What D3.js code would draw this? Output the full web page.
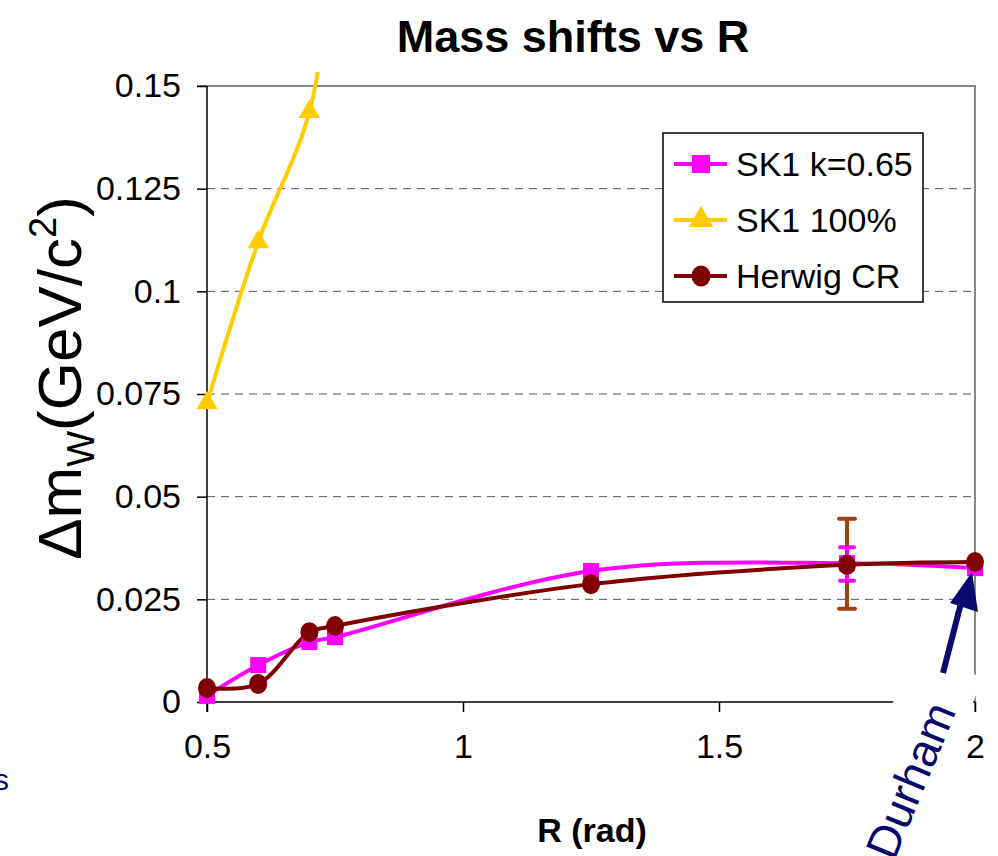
<!DOCTYPE html>
<html>
<head>
<meta charset="utf-8">
<script src="https://cdn.jsdelivr.net/npm/d3@7"></script>
<style>
  body { margin: 0; background: #fff; }
  text { font-family: "Liberation Sans", Arial, sans-serif; }
</style>
</head>
<body>
<div id="chart"></div>
<script>
// values
var rValues = [0.5, 0.6, 0.7, 0.75, 1.25, 1.75, 2.0];
var sk1k065 = [0.0015, 0.009, 0.0146, 0.0158, 0.0319, 0.0338, 0.0326];
var herwigCR = [0.0034, 0.0044, 0.017, 0.0185, 0.0287, 0.0334, 0.0341];
var sk1FullR = [0.5, 0.6, 0.7, 0.75];
var sk1Full = [0.0728, 0.112, 0.1437, 0.185];

// error bars at R = 1.75
var errR = 1.75;
var sk1Err = [0.0295, 0.0377];
var herwigErr = [0.0227, 0.0446];

var xTicks = [0.5, 1, 1.5, 2];
var yTicks = [0, 0.025, 0.05, 0.075, 0.1, 0.125, 0.15];
var legendNames = ["SK1 k=0.65", "SK1 100%", "Herwig CR"];

var W = 998, H = 856;
var margin = {top: 86, right: 23, bottom: 154, left: 207};
var width = W - margin.left - margin.right,
    height = H - margin.top - margin.bottom;

var svg = d3.select("#chart").append("svg")
    .attr("width", W)
    .attr("height", H);

var g = svg.append("g")
    .attr("transform", "translate(" + margin.left + "," + margin.top + ")");

var x = d3.scaleLinear().domain([0.5, 2]).range([0, width]);
var y = d3.scaleLinear().domain([0, 0.15]).range([height, 0]);

// clip, lines may poke a bit above the frame
g.append("clipPath").attr("id", "clip")
  .append("rect")
    .attr("x", -20).attr("y", -14)
    .attr("width", width + 40).attr("height", height + 34);

// gridlines
g.append("g")
    .selectAll("line")
    .data(yTicks.filter(function (d) { return d > 0 && d < 0.15; }))
    .enter().append("line")
    .attr("x1", 0).attr("x2", width)
    .attr("y1", function (d) { return y(d); })
    .attr("y2", function (d) { return y(d); })
    .attr("stroke", "#555")
    .attr("stroke-width", 1)
    .attr("stroke-dasharray", "8,6");

// top and right frame
g.append("line")
    .attr("x1", -10).attr("x2", width + 1)
    .attr("y1", 0).attr("y2", 0)
    .attr("stroke", "#888").attr("stroke-width", 2);
g.append("line")
    .attr("x1", width).attr("x2", width)
    .attr("y1", 0).attr("y2", height + 10)
    .attr("stroke", "#888").attr("stroke-width", 2);

// axes
var yAxis = d3.axisLeft(y).tickValues(yTicks).tickSize(10).tickPadding(16)
    .tickFormat(function (d) { return d3.format("")(d); });
var xAxis = d3.axisBottom(x).tickValues(xTicks).tickSize(10).tickPadding(22)
    .tickFormat(function (d) { return d3.format("")(d); });

var yG = g.append("g").call(yAxis);
var xG = g.append("g").attr("transform", "translate(0," + height + ")").call(xAxis);

[yG, xG].forEach(function (ax) {
    ax.select(".domain").attr("stroke", "#000").attr("stroke-width", 1.5);
    ax.selectAll(".tick line").attr("stroke", "#000").attr("stroke-width", 1.5);
    ax.selectAll("text")
        .attr("font-family", "Liberation Sans, Arial, sans-serif")
        .attr("font-size", 34)
        .attr("fill", "#000");
});
xG.selectAll(".domain").attr("d", "M0,0H" + width);
yG.selectAll(".domain").attr("d", "M0," + (height + 10) + "V0");

// series
var curve = d3.curveCatmullRom.alpha(0.5);
var lineGen = d3.line()
    .x(function (d) { return x(d[0]); })
    .y(function (d) { return y(d[1]); })
    .curve(curve);

var skData = rValues.map(function (r, i) { return [r, sk1k065[i]]; });
var hwData = rValues.map(function (r, i) { return [r, herwigCR[i]]; });
var fullData = sk1FullR.map(function (r, i) { return [r, sk1Full[i]]; });

var plot = g.append("g").attr("clip-path", "url(#clip)");

var colSK = "#ff00ff", colFull = "#ffcc00", colHW = "#800000", colErr = "#a0400a";

plot.append("path").attr("d", lineGen(fullData))
    .attr("fill", "none").attr("stroke", colFull).attr("stroke-width", 4);

function errBar(vals, col, cap, sw) {
    var eg = plot.append("g");
    eg.append("line")
        .attr("x1", x(errR)).attr("x2", x(errR))
        .attr("y1", y(vals[0])).attr("y2", y(vals[1]))
        .attr("stroke", col).attr("stroke-width", sw);
    vals.forEach(function (v) {
        eg.append("line")
            .attr("x1", x(errR) - cap).attr("x2", x(errR) + cap)
            .attr("y1", y(v)).attr("y2", y(v))
            .attr("stroke", col).attr("stroke-width", sw).attr("stroke-linecap", "round");
    });
}
errBar(herwigErr, colErr, 8, 4);
errBar(sk1Err, colSK, 7, 4);

plot.append("path").attr("d", lineGen(skData))
    .attr("fill", "none").attr("stroke", colSK).attr("stroke-width", 4);
plot.append("path").attr("d", lineGen(hwData))
    .attr("fill", "none").attr("stroke", colHW).attr("stroke-width", 4);

// markers
var tri = d3.symbol().type(d3.symbolTriangle).size(200);
plot.selectAll(".tri").data(fullData).enter().append("path")
    .attr("d", tri)
    .attr("transform", function (d) { return "translate(" + x(d[0]) + "," + y(d[1]) + ")"; })
    .attr("fill", colFull);

plot.selectAll(".sq").data(skData).enter().append("rect")
    .attr("x", function (d) { return x(d[0]) - 8; })
    .attr("y", function (d) { return y(d[1]) - 8; })
    .attr("width", 16).attr("height", 16)
    .attr("fill", colSK);

plot.selectAll(".dot").data(hwData).enter().append("ellipse")
    .attr("cx", function (d) { return x(d[0]); })
    .attr("cy", function (d) { return y(d[1]); })
    .attr("rx", 9).attr("ry", 10)
    .attr("fill", colHW);

// legend
var lg = svg.append("g").attr("transform", "translate(663,133)");
lg.append("rect").attr("width", 260).attr("height", 169)
    .attr("fill", "#fff").attr("stroke", "#000").attr("stroke-width", 1.5);
var rows = lg.selectAll(".row").data(legendNames).enter().append("g")
    .attr("transform", function (d, i) { return "translate(0," + (31 + i * 56) + ")"; });
rows.append("line").attr("x1", 11).attr("x2", 64).attr("y1", 0).attr("y2", 0)
    .attr("stroke", function (d, i) { return [colSK, colFull, colHW][i]; })
    .attr("stroke-width", 4);
rows.each(function (d, i) {
    var r = d3.select(this);
    if (i === 0) {
        r.append("rect").attr("x", 29).attr("y", -9).attr("width", 18).attr("height", 18).attr("fill", colSK);
    } else if (i === 1) {
        r.append("path").attr("d", d3.symbol().type(d3.symbolTriangle).size(260))
            .attr("transform", "translate(38,0)").attr("fill", colFull);
    } else {
        r.append("ellipse").attr("cx", 38).attr("cy", 0).attr("rx", 9.5).attr("ry", 10.5).attr("fill", colHW);
    }
});
rows.append("text").attr("x", 73).attr("y", 12)
    .attr("font-size", 34).attr("fill", "#000")
    .text(function (d) { return d; });

// title
svg.append("text")
    .attr("x", 573).attr("y", 52)
    .attr("text-anchor", "middle")
    .attr("font-size", 45).attr("font-weight", "bold")
    .text("Mass shifts vs R");

// x axis title
svg.append("text")
    .attr("x", 592).attr("y", 842)
    .attr("text-anchor", "middle")
    .attr("font-size", 34).attr("font-weight", "bold")
    .text("R (rad)");

// y axis title
var yt = svg.append("text")
    .attr("transform", "translate(81,378) rotate(-90)")
    .attr("text-anchor", "middle")
    .attr("font-size", 62).attr("fill", "#000");
yt.append("tspan").text("\u0394m");
yt.append("tspan").attr("font-size", 38).attr("dy", 13).text("W");
yt.append("tspan").attr("dy", -13).text("(GeV/c");
yt.append("tspan").attr("font-size", 38).attr("dy", -25).text("2");
yt.append("tspan").attr("dy", 25).text(")");

// Durham annotation (white text box hides part of the frame)
var navy = "#0a0a6e";
var dur = svg.append("g").attr("transform", "translate(894,862) rotate(-67.5)");
dur.append("rect").attr("x", -10).attr("y", -62).attr("width", 214).attr("height", 74).attr("fill", "#fff");
dur.append("text").attr("x", 0).attr("y", 0)
    .attr("font-size", 46).attr("fill", navy)
    .text("Durham");

svg.append("line")
    .attr("x1", 943).attr("y1", 673).attr("x2", 961).attr("y2", 603)
    .attr("stroke", navy).attr("stroke-width", 6);
svg.append("path")
    .attr("d", "M972,572L950,603L978,612Z")
    .attr("fill", navy);

// cut-off fragment at left edge
svg.append("text").attr("x", -6).attr("y", 790)
    .attr("font-size", 30).attr("fill", navy).text("s");
</script>
</body>
</html>
